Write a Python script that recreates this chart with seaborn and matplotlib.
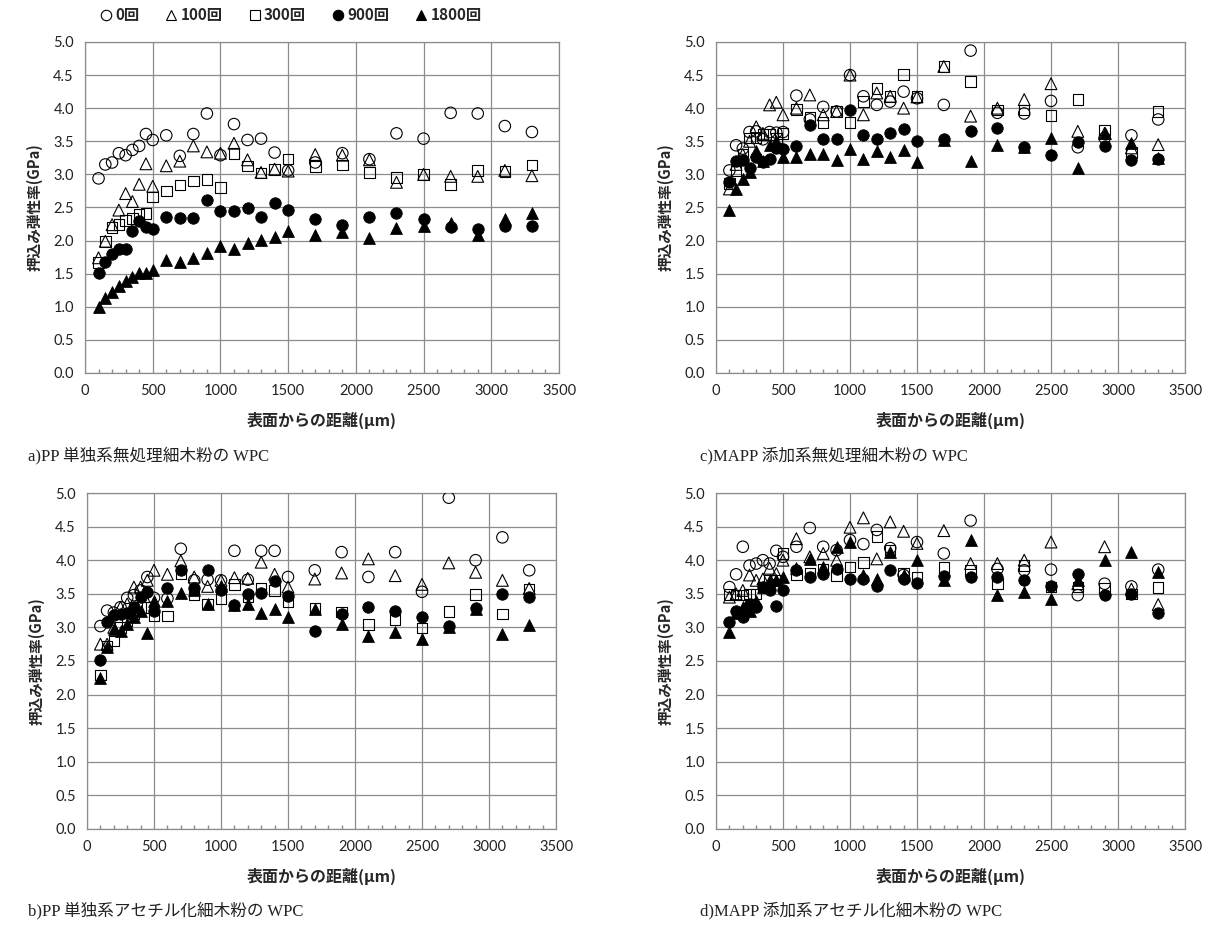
import numpy as np
import pandas as pd
import matplotlib
matplotlib.use("Agg")
import matplotlib.pyplot as plt
from matplotlib.lines import Line2D
from matplotlib.ticker import MultipleLocator
import seaborn as sns

# ---------------- data ----------------
DIST = [100, 150, 200, 250, 300, 350, 400, 450, 500,
        600, 700, 800, 900, 1000, 1100, 1200, 1300, 1400, 1500,
        1700, 1900, 2100, 2300, 2500, 2700, 2900, 3100, 3300]

SERIES = ["0回", "100回", "300回", "900回", "1800回"]

# a) PP 単独系無処理細木粉の WPC
A_0 = [2.94, 3.15, 3.18, 3.32, 3.29, 3.37, 3.43, 3.61, 3.52, 3.59, 3.28, 3.61, 3.92, 3.29,
       3.76, 3.52, 3.54, 3.33, 3.06, 3.18, 3.32, 3.23, 3.62, 3.54, 3.93, 3.92, 3.73, 3.64]
A_100 = [1.74, 1.99, 2.24, 2.46, 2.71, 2.59, 2.85, 3.16, 2.82, 3.13, 3.20, 3.43, 3.34, 3.32,
         3.47, 3.22, 3.03, 3.08, 3.05, 3.30, 3.29, 3.22, 2.88, 3.00, 2.97, 2.97, 3.06, 2.98]
A_300 = [1.67, 1.99, 2.20, 2.24, 2.30, 2.33, 2.39, 2.41, 2.66, 2.75, 2.84, 2.90, 2.92, 2.80,
         3.32, 3.13, 3.02, 3.07, 3.23, 3.12, 3.14, 3.03, 2.95, 3.00, 2.85, 3.06, 3.04, 3.14]
A_900 = [1.51, 1.67, 1.80, 1.87, 1.88, 2.15, 2.29, 2.21, 2.18, 2.35, 2.34, 2.34, 2.62, 2.44,
         2.44, 2.49, 2.36, 2.57, 2.46, 2.33, 2.23, 2.36, 2.42, 2.32, 2.20, 2.17, 2.22, 2.22]
A_1800 = [1.00, 1.14, 1.22, 1.31, 1.39, 1.45, 1.51, 1.51, 1.56, 1.71, 1.67, 1.74, 1.82, 1.92,
          1.87, 1.97, 2.01, 2.06, 2.14, 2.08, 2.13, 2.04, 2.19, 2.22, 2.27, 2.09, 2.32, 2.42]

# c) MAPP 添加系無処理細木粉の WPC
C_0 = [3.06, 3.44, 3.39, 3.64, 3.65, 3.53, 3.64, 3.63, 3.64, 4.19, 3.83, 4.02, 3.95, 4.50,
       4.18, 4.05, 4.10, 4.25, 4.15, 4.05, 4.87, 3.93, 3.92, 4.11, 3.41, 3.55, 3.59, 3.83]
C_100 = [2.78, 3.15, 3.30, 3.50, 3.72, 3.62, 4.05, 4.09, 3.90, 4.00, 4.20, 3.90, 3.95, 4.50,
         3.90, 4.23, 4.18, 4.00, 4.17, 4.63, 3.88, 4.00, 4.13, 4.37, 3.65, 3.62, 3.40, 3.45]
C_300 = [2.86, 3.05, 3.30, 3.55, 3.55, 3.60, 3.60, 3.55, 3.62, 3.98, 3.87, 3.78, 3.95, 3.78,
         4.10, 4.30, 4.18, 4.51, 4.18, 4.63, 4.40, 3.97, 3.97, 3.89, 4.13, 3.67, 3.33, 3.95]
C_900 = [2.88, 3.20, 3.22, 3.10, 3.26, 3.18, 3.24, 3.40, 3.38, 3.43, 3.74, 3.53, 3.53, 3.98,
         3.59, 3.54, 3.63, 3.69, 3.50, 3.53, 3.65, 3.70, 3.42, 3.29, 3.49, 3.43, 3.21, 3.23]
C_1800 = [2.46, 2.78, 2.93, 3.03, 3.35, 3.20, 3.45, 3.50, 3.26, 3.26, 3.31, 3.31, 3.21, 3.39,
          3.23, 3.35, 3.26, 3.37, 3.18, 3.52, 3.20, 3.44, 3.42, 3.55, 3.09, 3.62, 3.48, 3.25]

# b) PP 単独系アセチル化細木粉の WPC
B_0 = [3.02, 3.25, 3.22, 3.30, 3.44, 3.48, 3.55, 3.75, 3.44, 3.43, 4.17, 3.70, 3.71, 3.70,
       4.14, 3.71, 4.14, 4.14, 3.75, 3.85, 4.12, 3.75, 4.12, 3.53, 4.93, 4.00, 4.34, 3.85]
B_100 = [2.75, 2.75, 3.00, 3.30, 3.35, 3.60, 3.60, 3.70, 3.85, 3.79, 3.99, 3.75, 3.61, 3.70,
         3.74, 3.73, 3.97, 3.79, 3.60, 3.72, 3.81, 4.02, 3.77, 3.64, 3.96, 3.82, 3.70, 3.58]
B_300 = [2.29, 2.72, 2.80, 3.00, 3.10, 3.20, 3.30, 3.30, 3.17, 3.17, 3.80, 3.48, 3.35, 3.43,
         3.64, 3.45, 3.58, 3.55, 3.38, 3.28, 3.23, 3.04, 3.12, 2.99, 3.24, 3.49, 3.20, 3.56]
B_900 = [2.51, 3.08, 3.18, 3.20, 3.22, 3.30, 3.45, 3.52, 3.24, 3.59, 3.86, 3.58, 3.86, 3.55,
         3.33, 3.49, 3.51, 3.69, 3.46, 2.95, 3.20, 3.30, 3.24, 3.16, 3.02, 3.29, 3.49, 3.45]
B_1800 = [2.24, 2.71, 2.97, 2.95, 3.05, 3.15, 3.25, 2.92, 3.40, 3.39, 3.51, 3.55, 3.35, 3.61,
          3.33, 3.35, 3.21, 3.28, 3.16, 3.28, 3.05, 2.87, 2.93, 2.82, 3.00, 3.28, 2.90, 3.03]

# d) MAPP 添加系アセチル化細木粉の WPC
D_0 = [3.60, 3.79, 4.20, 3.92, 3.95, 4.00, 3.95, 4.14, 4.05, 4.20, 4.48, 4.20, 4.15, 4.30,
       4.24, 4.45, 4.18, 3.78, 4.27, 4.10, 4.59, 3.87, 3.85, 3.86, 3.48, 3.65, 3.61, 3.86]
D_100 = [3.45, 3.50, 3.55, 3.78, 3.70, 3.72, 3.88, 3.80, 4.00, 4.32, 4.05, 4.10, 4.00, 4.49,
         4.63, 4.02, 4.57, 4.43, 4.25, 4.44, 3.95, 3.95, 4.00, 4.27, 3.65, 4.20, 3.57, 3.34]
D_300 = [3.49, 3.48, 3.48, 3.50, 3.50, 3.60, 3.70, 3.70, 4.10, 3.78, 3.80, 3.87, 3.77, 3.90,
         3.97, 4.35, 4.15, 3.80, 3.75, 3.89, 3.85, 3.65, 3.92, 3.60, 3.60, 3.58, 3.50, 3.59]
D_900 = [3.08, 3.25, 3.15, 3.35, 3.30, 3.60, 3.55, 3.32, 3.55, 3.85, 3.75, 3.80, 3.87, 3.72,
         3.72, 3.62, 3.85, 3.72, 3.66, 3.77, 3.75, 3.75, 3.70, 3.62, 3.80, 3.48, 3.50, 3.21]
D_1800 = [2.93, 3.22, 3.30, 3.25, 3.40, 3.60, 3.70, 3.70, 3.75, 3.88, 4.02, 3.90, 4.20, 4.27,
          3.78, 3.72, 4.12, 3.78, 4.00, 3.70, 4.30, 3.48, 3.53, 3.43, 3.70, 4.01, 4.12, 3.83]

CAPTIONS = ["a)PP 単独系無処理細木粉の WPC", "c)MAPP 添加系無処理細木粉の WPC",
            "b)PP 単独系アセチル化細木粉の WPC", "d)MAPP 添加系アセチル化細木粉の WPC"]
XLABEL = "表面からの距離(μm)"
YLABEL = "押込み弾性率(GPa)"

PANELS = [
    [A_0, A_100, A_300, A_900, A_1800],
    [C_0, C_100, C_300, C_900, C_1800],
    [B_0, B_100, B_300, B_900, B_1800],
    [D_0, D_100, D_300, D_900, D_1800],
]

# ---------------- styling ----------------
sns.set_theme(style="white")
plt.rcParams['font.family'] = ['Noto Sans CJK JP', 'DejaVu Sans']

MARKERS = ['o', '^', 's', 'o', '^']
FILLED = [False, False, False, True, True]
SIZES = [68, 72, 58, 68, 72]

W, H = 1209, 931
fig = plt.figure(figsize=(W / 100, H / 100), dpi=100)

# axes boxes in pixels: (left, top, right, bottom)
BOXES = [(85, 42, 559, 373), (716, 42, 1185, 373),
         (87, 493, 556, 829), (716, 493, 1185, 829)]
CAP_POS = [(28, 455), (700, 455), (28, 910), (700, 910)]
GRID = '#8c8c8c'
TICKFONT = ['Lato', 'DejaVu Sans']
CAPFONT = ['Liberation Serif', 'Noto Sans CJK JP']

for i, (box, data) in enumerate(zip(BOXES, PANELS)):
    l, t, r, b = box
    ax = fig.add_axes([l / W, 1 - b / H, (r - l) / W, (b - t) / H])
    for j, vals in enumerate(data):
        df = pd.DataFrame({"dist": DIST, "val": vals})
        if FILLED[j]:
            sns.scatterplot(data=df, x="dist", y="val", ax=ax, marker=MARKERS[j],
                            s=SIZES[j], color='black', edgecolor='black',
                            linewidth=0.6, zorder=3 + j)
        else:
            sns.scatterplot(data=df, x="dist", y="val", ax=ax, marker=MARKERS[j],
                            s=SIZES[j], color='black', facecolors='none',
                            edgecolor='black', linewidth=0.8, zorder=3 + j)
    ax.set_xlim(0, 3500)
    ax.set_ylim(0, 5.0)
    ax.xaxis.set_major_locator(MultipleLocator(500))
    ax.xaxis.set_minor_locator(MultipleLocator(100))
    ax.grid(True, which='major', color=GRID, linewidth=0.9)
    ax.set_axisbelow(True)
    for sp in ax.spines.values():
        sp.set_color(GRID)
        sp.set_linewidth(0.9)
    ax.tick_params(axis='both', which='major', length=0, pad=8, labelsize=10.5,
                   colors='#222222')
    ax.tick_params(axis='x', which='minor', length=3, direction='in',
                   color=GRID, bottom=True)
    yt = np.arange(0, 5.01, 0.5)
    ax.set_yticks(yt)
    ax.set_yticklabels([f"{v:.1f}" for v in yt], family=TICKFONT)
    xt = np.arange(0, 3501, 500)
    ax.set_xticks(xt)
    ax.set_xticklabels([f"{int(v)}" for v in xt], family=TICKFONT)
    ax.set_xlabel(XLABEL, fontsize=11.5, fontweight='bold', labelpad=10)
    ax.set_ylabel(YLABEL, fontsize=10.5, fontweight='bold', labelpad=8)
    cx, cy = CAP_POS[i]
    fig.text(cx / W, 1 - cy / H, CAPTIONS[i], fontsize=12, va='center', ha='left',
             color='#222222', family=CAPFONT)

handles = []
for j in range(5):
    handles.append(Line2D([], [], linestyle='none', marker=MARKERS[j], markersize=7.5,
                          markerfacecolor='black' if FILLED[j] else 'none',
                          markeredgecolor='black', markeredgewidth=0.8))
fig.legend(handles, SERIES, loc='center', bbox_to_anchor=(290 / W, 1 - 15 / H),
           ncol=5, frameon=False, handletextpad=0.1, columnspacing=1.6,
           handlelength=1.0, prop={'weight': 'bold', 'size': 11})

fig.savefig("out.png", dpi=100)
